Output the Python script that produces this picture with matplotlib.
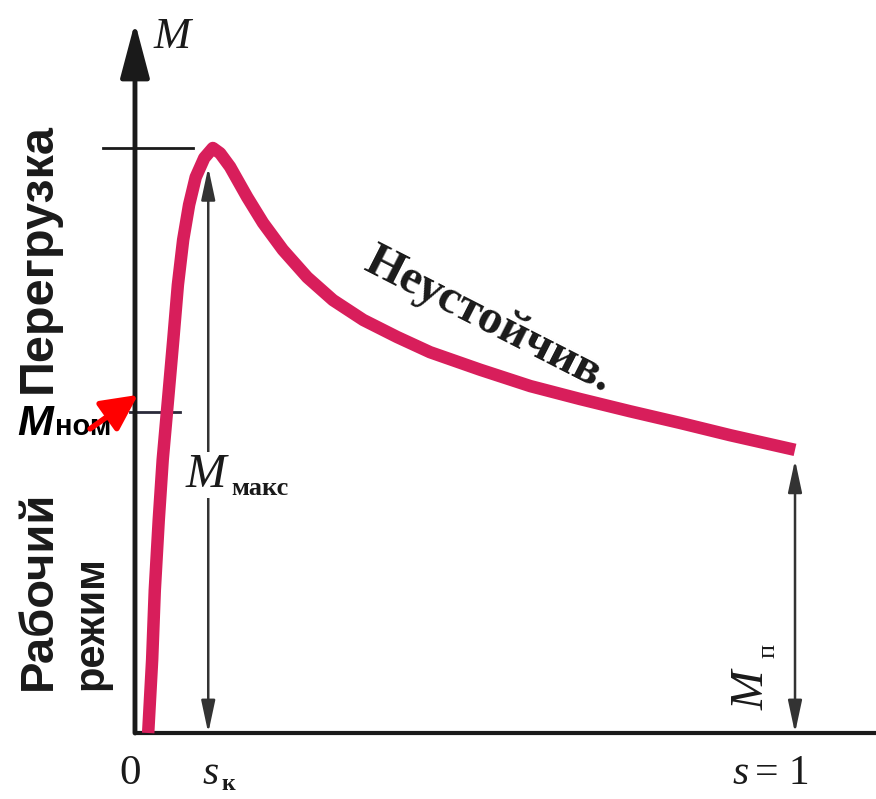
import matplotlib
matplotlib.use("Agg")
import matplotlib.pyplot as plt

# ─── Механическая характеристика асинхронного двигателя M(s) ───
# s — скольжение (0 … 1), M — момент в долях от M_макс
slip = [0.020, 0.026, 0.030, 0.036, 0.042, 0.050, 0.058, 0.065, 0.073, 0.082,
        0.092, 0.105, 0.118, 0.129, 0.144, 0.170, 0.194, 0.224, 0.261, 0.300,
        0.346, 0.397, 0.447, 0.523, 0.599, 0.674, 0.750, 0.826, 0.902, 1.000]
torque = [0.000, 0.125, 0.244, 0.364, 0.467, 0.569, 0.672, 0.766, 0.843, 0.903,
          0.950, 0.983, 1.000, 0.991, 0.968, 0.916, 0.872, 0.826, 0.779, 0.740,
          0.706, 0.677, 0.651, 0.621, 0.593, 0.571, 0.550, 0.530, 0.509, 0.484]

s_crit = 0.111      # s_к (положение стрелки M_макс)
m_nom = 0.549       # M_ном
m_start = 0.467     # M_п (вершина стрелки)

CURVE = "#d81e5b"
INK = "#1a1a1a"
SERIF = "Liberation Serif"
SANS = "Liberation Sans"

fig = plt.figure(figsize=(8.76, 7.99), dpi=100)
ax = fig.add_axes([0, 0, 1, 1])
ax.set_xlim(-0.2045, 1.1227)
ax.set_ylim(-0.1128, 1.2530)
ax.axis("off")

# оси
ax.plot([0, 1.1227], [0, 0], color=INK, lw=3, solid_capstyle="butt", zorder=2)
ax.annotate("", xy=(0, 1.215), xytext=(0, 0),
            arrowprops=dict(arrowstyle="-|>,head_length=1.7,head_width=0.45",
                            color=INK, lw=3.5, mutation_scale=20,
                            shrinkA=0, shrinkB=0))

# засечки M_макс и M_ном
ax.plot([-0.048, 0.088], [max(torque)] * 2, color=INK, lw=2)
ax.plot([-0.008, 0.068], [m_nom] * 2, color="#2a2a3a", lw=2)

# стрелки M_макс и M_п
thin = dict(arrowstyle="<|-|>,head_length=1.4,head_width=0.3", color="#333333",
            lw=1.8, mutation_scale=14, shrinkA=0, shrinkB=0)
ax.annotate("", xy=(s_crit, 0), xytext=(s_crit, 0.967), arrowprops=thin)
ax.annotate("", xy=(1.0, 0), xytext=(1.0, m_start), arrowprops=thin)

# кривая
ax.plot(slip, torque, color=CURVE, lw=9, solid_joinstyle="round",
        solid_capstyle="butt", zorder=3)

# подписи
ax.text(0.056, 1.19, "M", family=SERIF, style="italic", fontsize=32,
        ha="center", va="center", color=INK)
ax.text(-0.147, 0.812, "Перегрузка", family=SANS, weight="bold", fontsize=35,
        rotation=90, ha="center", va="center", color=INK)
ax.text(-0.146, 0.0735, "Рабочий", family=SANS, weight="bold", fontsize=34,
        rotation=90, ha="center", va="bottom", color=INK)
ax.text(-0.066, 0.0735, "режим", family=SANS, weight="bold", fontsize=30,
        rotation=90, ha="center", va="bottom", color=INK)

ax.text(-0.179, 0.509, "M", family=SANS, weight="bold", style="italic",
        fontsize=31, ha="left", va="baseline", color="black")
ax.text(-0.121, 0.509, "ном", family=SANS, weight="bold", fontsize=21,
        ha="left", va="baseline", color="black")
ax.annotate("", xy=(0.0045, 0.578), xytext=(-0.068, 0.520),
            arrowprops=dict(arrowstyle="-|>,head_length=1.1,head_width=0.55",
                            color="red", lw=4, mutation_scale=20,
                            shrinkA=0, shrinkB=0))

ax.text(0.535, 0.706, "Неустойчив.", family=SERIF, weight="bold", fontsize=35,
        rotation=-27, ha="center", va="center", color=INK)

ax.text(0.077, 0.4205, "M", family=SERIF, style="italic", fontsize=35,
        ha="left", va="baseline", color=INK,
        bbox=dict(facecolor="white", edgecolor="none", pad=1))
ax.text(0.146, 0.407, "макс", family=SERIF, weight="bold", fontsize=19,
        ha="left", va="baseline", color=INK)

ax.text(0.935, 0.073, "M", family=SERIF, style="italic", fontsize=34,
        rotation=90, ha="center", va="center", color=INK)
ax.text(0.960, 0.140, "п", family=SERIF, fontsize=19,
        rotation=90, ha="center", va="center", color=INK)

ax.text(-0.008, -0.070, "0", family=SERIF, fontsize=31,
        ha="center", va="center", color=INK)
ax.text(0.114, -0.070, "s", family=SERIF, style="italic", fontsize=30,
        ha="center", va="center", color=INK)
ax.text(0.142, -0.088, "к", family=SERIF, weight="bold", fontsize=17,
        ha="center", va="center", color=INK)
ax.text(0.918, -0.070, "s", family=SERIF, style="italic", fontsize=30,
        ha="center", va="center", color=INK)
ax.text(0.940, -0.070, "= 1", family=SERIF, fontsize=30,
        ha="left", va="center", color=INK)

fig.savefig("out.png", dpi=100, facecolor="white")
